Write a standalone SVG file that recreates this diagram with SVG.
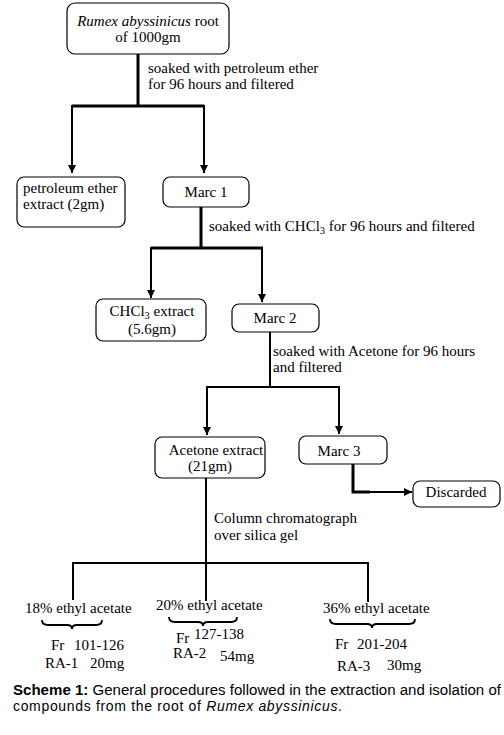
<svg xmlns="http://www.w3.org/2000/svg" width="504" height="735" viewBox="0 0 504 735">
<style>
.box{fill:#fff;stroke:#000;stroke-width:1.2}
.t{font-family:"Liberation Serif","Times New Roman",serif;font-size:15px;fill:#000}
.c{text-anchor:middle}
.w{fill:none;stroke:#000;stroke-width:3}
.n{fill:none;stroke:#000;stroke-width:2}
.br{fill:none;stroke:#000;stroke-width:1.8}
.cap{font-family:"Liberation Sans",Arial,sans-serif;font-size:14px;fill:#000}
</style>
<defs>
<marker id="ah2" viewBox="0 0 10 10" refX="10" refY="5" markerWidth="4.5" markerHeight="4" orient="auto" markerUnits="strokeWidth">
<path d="M0,0 L10,5 L0,10 z" fill="#000"/>
</marker>
</defs>
<g id="connectors">
<path class="w" d="M138,54 V106 M72,106 H204"/>
<path class="n" d="M72,105 V173" marker-end="url(#ah2)"/>
<path class="n" d="M204,105 V173" marker-end="url(#ah2)"/>
<path class="w" d="M201,207 V248 M151,248 H263"/>
<path class="n" d="M151,247 V298" marker-end="url(#ah2)"/>
<path class="n" d="M262,247 V302" marker-end="url(#ah2)"/>
<path class="n" d="M270,332 V387 M206,387 H340"/>
<path class="n" d="M207,386 V435" marker-end="url(#ah2)"/>
<path class="n" d="M339,386 V434" marker-end="url(#ah2)"/>
<path class="w" d="M353,464 V492 H370"/>
<path class="n" d="M368,492 H412" marker-end="url(#ah2)"/>
<path class="n" d="M206,478 V563 M73,563 H369 M73,562 V600 M206,562 V601 M368,562 V602"/>
<text class="t" x="148" y="73">soaked with petroleum ether</text>
<text class="t" x="148" y="89">for 96 hours and filtered</text>
<text class="t" x="209" y="231">soaked with CHCl<tspan font-size="10.5" dy="3">3</tspan><tspan dy="-3"> for 96 hours and filtered</tspan></text>
<text class="t" x="273" y="356">soaked with Acetone for 96 hours</text>
<text class="t" x="273" y="372">and filtered</text>
<text class="t" x="214" y="523">Column chromatograph</text>
<text class="t" x="214" y="540">over silica gel</text>
</g>
<g id="root">
<rect class="box" x="67" y="3" width="162" height="51" rx="8"/>
<text class="t c" x="148" y="26"><tspan font-style="italic">Rumex abyssinicus</tspan> root</text>
<text class="t c" x="148" y="42">of 1000gm</text>
</g>
<g id="petether">
<rect class="box" x="17" y="177" width="108" height="50" rx="7"/>
<text class="t" x="23" y="193">petroleum ether</text>
<text class="t" x="23" y="209">extract (2gm)</text>
</g>
<g id="marc1">
<rect class="box" x="163" y="177" width="86" height="30" rx="7"/>
<text class="t c" x="206" y="197">Marc 1</text>
</g>
<g id="chcl3">
<rect class="box" x="96" y="299" width="110" height="42" rx="7"/>
<text class="t c" x="152" y="316">CHCl<tspan font-size="10.5" dy="3">3</tspan><tspan dy="-3"> extract</tspan></text>
<text class="t c" x="152" y="334">(5.6gm)</text>
</g>
<g id="marc2">
<rect class="box" x="232" y="304" width="87" height="28" rx="7"/>
<text class="t c" x="275" y="323">Marc 2</text>
</g>
<g id="acetone">
<rect class="box" x="155" y="437" width="110" height="41" rx="7"/>
<text class="t c" x="216" y="455">Acetone extract</text>
<text class="t c" x="210" y="471">(21gm)</text>
</g>
<g id="marc3">
<rect class="box" x="299" y="436" width="88" height="28" rx="7"/>
<text class="t c" x="339" y="456">Marc 3</text>
</g>
<g id="discarded">
<rect class="box" x="413" y="481" width="87" height="26" rx="7"/>
<text class="t c" x="456" y="497">Discarded</text>
</g>
<g id="fraction1">
<text class="t" x="25" y="613">18% ethyl acetate</text>
<path class="br" d="M42,620 Q42,625 48,625 H67 Q72,625 72,629 Q72,625 77,625 H96 Q102,625 102,620"/>
<text class="t" x="51" y="650">Fr</text>
<text class="t" x="74" y="650">101-126</text>
<text class="t" x="45" y="668">RA-1</text>
<text class="t" x="90" y="668">20mg</text>
</g>
<g id="fraction2">
<text class="t" x="156" y="610">20% ethyl acetate</text>
<path class="br" d="M169,617 Q169,622 175,622 H198 Q203,622 203,626 Q203,622 208,622 H231 Q237,622 237,617"/>
<text class="t" x="176" y="643">Fr</text>
<text class="t" x="194" y="639">127-138</text>
<text class="t" x="173" y="658">RA-2</text>
<text class="t" x="220" y="661">54mg</text>
</g>
<g id="fraction3">
<text class="t" x="323" y="613">36% ethyl acetate</text>
<path class="br" d="M330,619 Q330,624 336,624 H367 Q372,624 372,628 Q372,624 377,624 H409 Q415,624 415,619"/>
<text class="t" x="335" y="649">Fr</text>
<text class="t" x="357" y="649">201-204</text>
<text class="t" x="337" y="671">RA-3</text>
<text class="t" x="387" y="670">30mg</text>
</g>
<g id="caption">
<text class="cap" x="13" y="695" textLength="488" lengthAdjust="spacingAndGlyphs"><tspan font-weight="bold">Scheme 1:</tspan> General procedures followed in the extraction and isolation of</text>
<text class="cap" x="13" y="711" textLength="329" lengthAdjust="spacing">compounds from the root of <tspan font-style="italic">Rumex abyssinicus</tspan>.</text>
</g>
</svg>
